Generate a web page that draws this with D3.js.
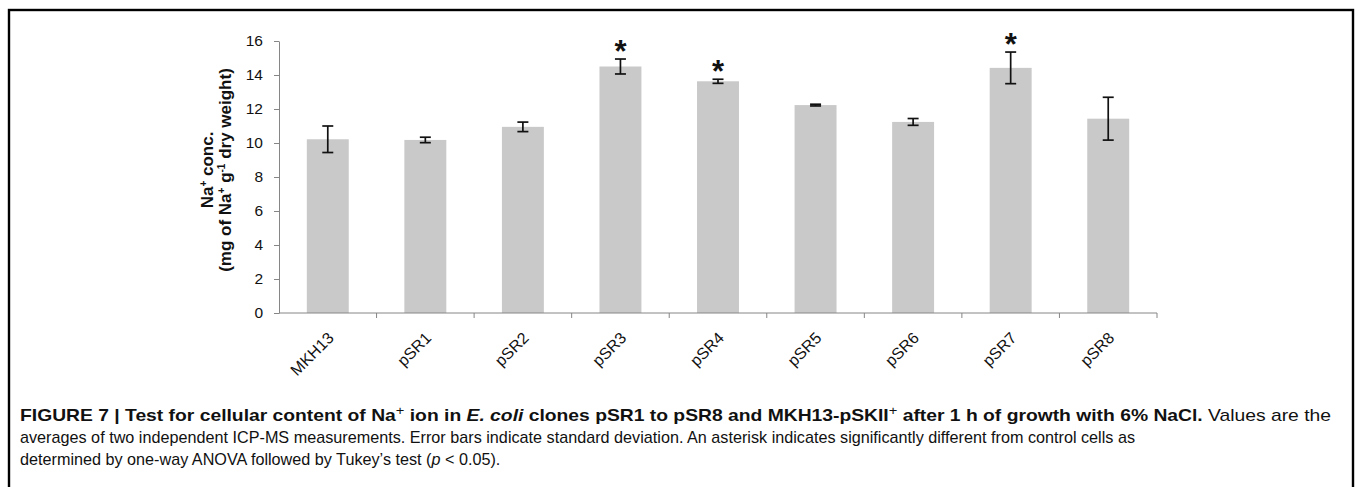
<!DOCTYPE html>
<html>
<head>
<meta charset="utf-8">
<script src="https://cdn.jsdelivr.net/npm/d3@7/dist/d3.min.js"></script>
<style>
  html, body { margin: 0; padding: 0; background: #fff; }
  svg { display: block; }
  text { font-family: "Liberation Sans", Arial, Helvetica, sans-serif; }
</style>
</head>
<body>
<svg id="chart" width="1360" height="487"></svg>
<script>
// Clones and controls on the category axis
const categories = ["MKH13", "pSR1", "pSR2", "pSR3", "pSR4", "pSR5", "pSR6", "pSR7", "pSR8"];
// Mean Na+ content (mg of Na+ per g dry weight)
const meanValues = [10.22, 10.18, 10.95, 14.50, 13.63, 12.23, 11.24, 14.42, 11.43];
// Standard deviation of the two measurements
const sdValues = [0.78, 0.16, 0.28, 0.44, 0.12, 0.05, 0.20, 0.93, 1.26];
// Clones significantly different from control
const significant = [false, false, false, true, true, false, false, true, false];
// Y axis ticks
const yTicks = [0, 2, 4, 6, 8, 10, 12, 14, 16];

const svg = d3.select("#chart");

// Figure frame
svg.append("rect")
  .attr("x", 9).attr("y", 10)
  .attr("width", 1344).attr("height", 520)
  .attr("fill", "none").attr("stroke", "#000").attr("stroke-width", 2.4);

const plot = { left: 279, right: 1157, top: 41, bottom: 313 };

const y = d3.scaleLinear().domain([0, 16]).range([plot.bottom, plot.top]);
const xCat = d3.scaleBand().domain(categories).range([plot.left, plot.right]).padding(0);
const x = d3.scaleBand().domain(categories).range([plot.left, plot.right])
  .paddingInner(0.57).paddingOuter(0.285);

// Bars
svg.append("g").selectAll("rect")
  .data(categories)
  .join("rect")
  .attr("x", d => x(d))
  .attr("width", x.bandwidth())
  .attr("y", (d, i) => y(meanValues[i]))
  .attr("height", (d, i) => y(0) - y(meanValues[i]))
  .attr("fill", "#c9c9c9");

// Y axis
const yAxis = svg.append("g")
  .attr("transform", `translate(${plot.left},0)`)
  .call(d3.axisLeft(y).tickValues(yTicks).tickSize(5).tickSizeOuter(0).tickPadding(11));
yAxis.select(".domain").attr("stroke", "#868686");
yAxis.selectAll(".tick line").attr("stroke", "#868686");
yAxis.selectAll(".tick text")
  .attr("font-size", 15.5).attr("fill", "#111")
  .style("font-family", "'Liberation Sans', Arial, sans-serif");

// X axis: labels centred under bars, tick marks between categories
const xAxis = svg.append("g")
  .attr("transform", `translate(0,${plot.bottom})`)
  .call(d3.axisBottom(x).tickSize(0).tickSizeOuter(0).tickPadding(0));
xAxis.select(".domain").remove();
xAxis.selectAll(".tick text")
  .attr("font-size", 16).attr("fill", "#111")
  .style("font-family", "'Liberation Sans', Arial, sans-serif")
  .attr("text-anchor", "end")
  .attr("x", 0).attr("y", 0).attr("dy", "0.35em")
  .attr("transform", "translate(3,22) rotate(-45)");

svg.append("line")
  .attr("x1", plot.left).attr("x2", plot.right)
  .attr("y1", plot.bottom).attr("y2", plot.bottom)
  .attr("stroke", "#868686");
svg.append("g").selectAll("line")
  .data(categories.map(c => xCat(c)).concat([plot.right]).slice(1))
  .join("line")
  .attr("x1", d => d).attr("x2", d => d)
  .attr("y1", plot.bottom).attr("y2", plot.bottom + 5)
  .attr("stroke", "#868686");

// Error bars
const cap = 5.5;
const eb = svg.append("g").attr("stroke", "#111").attr("stroke-width", 1.7).attr("fill", "none");
categories.forEach((c, i) => {
  const cx = x(c) + x.bandwidth() / 2;
  const hi = y(meanValues[i] + sdValues[i]);
  const lo = y(meanValues[i] - sdValues[i]);
  eb.append("line").attr("x1", cx).attr("x2", cx).attr("y1", hi).attr("y2", lo);
  eb.append("line").attr("x1", cx - cap).attr("x2", cx + cap).attr("y1", hi).attr("y2", hi);
  eb.append("line").attr("x1", cx - cap).attr("x2", cx + cap).attr("y1", lo).attr("y2", lo);
});

// Significance asterisks
svg.append("g").selectAll("text")
  .data(categories.filter((c, i) => significant[i]))
  .join("text")
  .attr("x", c => x(c) + x.bandwidth() / 2)
  .attr("y", c => { const i = categories.indexOf(c); return y(meanValues[i] + sdValues[i]) + 3; })
  .attr("text-anchor", "middle")
  .attr("font-size", 31).attr("font-weight", "bold").attr("fill", "#111")
  .text("*");

// Y axis title (two lines, rotated)
const yTitle = svg.append("text")
  .attr("transform", "translate(213,170) rotate(-90)")
  .attr("text-anchor", "middle")
  .attr("font-size", 17).attr("font-weight", "bold").attr("fill", "#111");
yTitle.append("tspan").attr("x", 0).attr("y", 0).text("Na");
yTitle.append("tspan").attr("font-size", 10).attr("dy", -6).text("+");
yTitle.append("tspan").attr("dy", 6).text(" conc.");
const yTitle2 = svg.append("text")
  .attr("transform", "translate(231,170) rotate(-90)")
  .attr("text-anchor", "middle")
  .attr("font-size", 17).attr("font-weight", "bold").attr("fill", "#111");
yTitle2.append("tspan").attr("x", 0).attr("y", 0).text("(mg of Na");
yTitle2.append("tspan").attr("font-size", 10).attr("dy", -6).text("+");
yTitle2.append("tspan").attr("dy", 6).text(" g");
yTitle2.append("tspan").attr("font-size", 10).attr("dy", -6).text("-1");
yTitle2.append("tspan").attr("dy", 6).text(" dry weight)");

// Caption
const capX = 20;
const capFont = 17;
const line1 = svg.append("text")
  .attr("x", capX).attr("y", 421)
  .attr("font-size", capFont).attr("fill", "#111")
  .attr("textLength", 1311).attr("lengthAdjust", "spacingAndGlyphs");
line1.append("tspan").attr("font-weight", "bold").text("FIGURE 7 | Test for cellular content of Na");
line1.append("tspan").attr("font-size", 13).attr("dy", -6).text("+");
line1.append("tspan").attr("dy", 6).attr("font-weight", "bold").text(" ion in ");
line1.append("tspan").attr("font-weight", "bold").attr("font-style", "italic").text("E. coli");
line1.append("tspan").attr("font-weight", "bold").text(" clones pSR1 to pSR8 and MKH13-pSKII");
line1.append("tspan").attr("font-size", 13).attr("dy", -6).text("+");
line1.append("tspan").attr("dy", 6).attr("font-weight", "bold").text(" after 1 h of growth with 6% NaCl.");
line1.append("tspan").text(" Values are the");

const line2 = svg.append("text")
  .attr("x", capX).attr("y", 443)
  .attr("font-size", capFont).attr("fill", "#111")
  .text("averages of two independent ICP-MS measurements. Error bars indicate standard deviation. An asterisk indicates significantly different from control cells as");
// Body lines share one horizontal squeeze so line 2 ends at the right place
const squeeze = 1115 / line2.node().getComputedTextLength();
line2.attr("textLength", 1115).attr("lengthAdjust", "spacingAndGlyphs");

const line3 = svg.append("text")
  .attr("transform", `translate(${capX},465) scale(${squeeze},1)`)
  .attr("font-size", capFont).attr("fill", "#111");
line3.append("tspan").text("determined by one-way ANOVA followed by Tukey\u2019s test (");
line3.append("tspan").attr("font-style", "italic").text("p");
line3.append("tspan").text("\u00a0< 0.05).");
</script>
</body>
</html>
